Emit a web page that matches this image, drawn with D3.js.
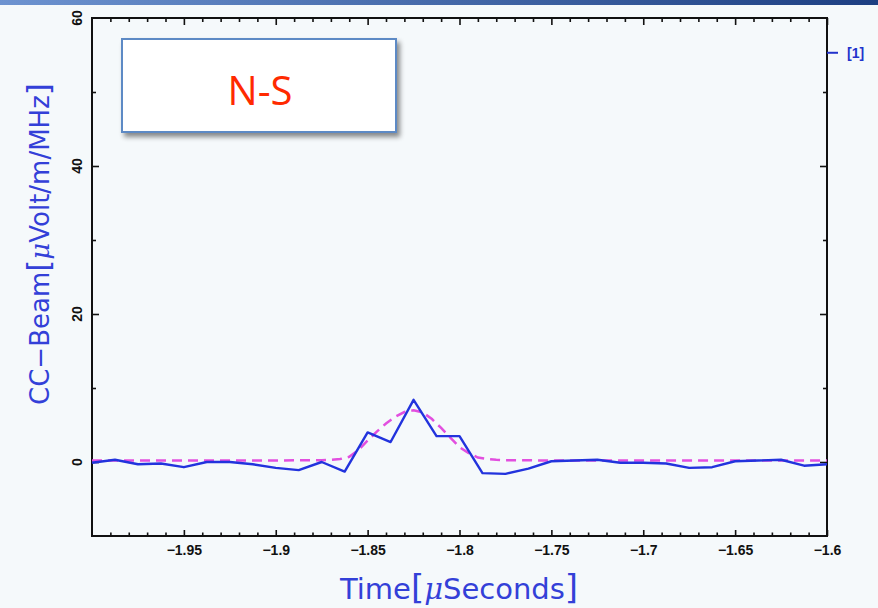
<!DOCTYPE html>
<html>
<head>
<meta charset="utf-8">
<script src="https://cdn.jsdelivr.net/npm/d3@7"></script>
<style>
  body { margin: 0; background: #f5f9fb; }
  svg { display: block; font-family: "Liberation Sans", Arial, sans-serif; }
</style>
</head>
<body>
<svg id="chart" width="878" height="608"></svg>
<script>
// sampled beam, one point every 12.5 ns from -2.0 us
const sampleTimes = d3.range(33).map(k => -2.0 + k * 0.0125);
const beamValues = [-0.1, 0.3, -0.3, -0.2, -0.7, 0.0, 0.0, -0.3, -0.8, -1.1, 0.0,
    -1.3, 4.0, 2.7, 8.4, 3.5, 3.5, -1.5, -1.6, -0.9, 0.1, 0.2, 0.3, -0.1, -0.1,
    -0.2, -0.8, -0.7, 0.1, 0.2, 0.3, -0.5, -0.3];

// fitted pulse (dashed)
const fitTimes = [-2.0, -1.9, -1.875, -1.87, -1.865, -1.86, -1.855, -1.85, -1.845,
    -1.84, -1.835, -1.83, -1.825, -1.82, -1.815, -1.81, -1.805, -1.8, -1.795,
    -1.79, -1.785, -1.78, -1.775, -1.75, -1.6];
const fitValues = [0.2, 0.2, 0.25, 0.3, 0.4, 0.7, 1.6, 2.9, 4.1,
    5.2, 6.1, 6.75, 7.0, 6.7, 5.8, 4.6, 3.3, 2.0, 1.2,
    0.6, 0.4, 0.3, 0.25, 0.2, 0.2];

const xTicks = [-1.95, -1.9, -1.85, -1.8, -1.75, -1.7, -1.65, -1.6];
const yTicks = [0, 20, 40, 60];

const svg = d3.select('#chart');
const pLeft = 92, pRight = 827, pTop = 18, pBottom = 536;

const x = d3.scaleLinear().domain([-2.0, -1.6]).range([pLeft, pRight]);
const y = d3.scaleLinear().domain([-10, 60]).range([pBottom, pTop]);

// header band
const defs = svg.append('defs');
const grad = defs.append('linearGradient').attr('id', 'band');
grad.append('stop').attr('offset', '0%').attr('stop-color', '#6d93d0');
grad.append('stop').attr('offset', '100%').attr('stop-color', '#1d3f82');
svg.append('rect').attr('x', 0).attr('y', 0).attr('width', 878).attr('height', 5)
    .attr('fill', 'url(#band)');

const shadow = defs.append('filter').attr('id', 'shadow')
    .attr('x', '-10%').attr('y', '-10%').attr('width', '130%').attr('height', '140%');
shadow.append('feDropShadow').attr('dx', 3).attr('dy', 4).attr('stdDeviation', 2.5)
    .attr('flood-color', '#000').attr('flood-opacity', 0.45);

// minor / major ticks, inward on all four sides
const minorX = d3.range(1, 40).filter(k => k % 5 !== 0).map(k => -2.0 + k * 0.01);
const fmt = d => d < 0 ? '\u2212' + Math.abs(d) : String(d);

svg.append('g').attr('transform', `translate(0,${pBottom})`)
    .call(d3.axisBottom(x).tickValues(xTicks).tickSize(-6).tickFormat(fmt).tickPadding(9))
    .call(g => g.select('.domain').remove());
svg.append('g').attr('transform', `translate(0,${pBottom})`)
    .call(d3.axisBottom(x).tickValues(minorX).tickSize(-3.5).tickFormat(''))
    .call(g => g.select('.domain').remove());
svg.append('g').attr('transform', `translate(0,${pTop})`)
    .call(d3.axisTop(x).tickValues(xTicks).tickSize(-7).tickFormat(''))
    .call(g => g.select('.domain').remove());
svg.append('g').attr('transform', `translate(0,${pTop})`)
    .call(d3.axisTop(x).tickValues(minorX).tickSize(-4).tickFormat(''))
    .call(g => g.select('.domain').remove());

svg.append('g').attr('transform', `translate(${pLeft},0)`)
    .call(d3.axisLeft(y).tickValues([0, 20, 40]).tickSize(-7).tickFormat(''))
    .call(g => g.select('.domain').remove());
svg.append('g').attr('transform', `translate(${pLeft},0)`)
    .call(d3.axisLeft(y).tickValues([10, 30, 50]).tickSize(-4).tickFormat(''))
    .call(g => g.select('.domain').remove());
svg.append('g').attr('transform', `translate(${pRight},0)`)
    .call(d3.axisRight(y).tickValues([0, 20, 40]).tickSize(-7).tickFormat(''))
    .call(g => g.select('.domain').remove());
svg.append('g').attr('transform', `translate(${pRight},0)`)
    .call(d3.axisRight(y).tickValues([10, 30, 50]).tickSize(-4).tickFormat(''))
    .call(g => g.select('.domain').remove());

svg.selectAll('.tick line').attr('stroke', '#111').attr('stroke-width', 1.6);
svg.selectAll('.tick text').attr('fill', '#111').attr('font-size', 14)
    .attr('font-weight', 'bold');

// rotated y tick labels
svg.append('g').selectAll('text').data(yTicks).join('text')
    .attr('transform', d => `translate(82,${y(d)}) rotate(-90)`)
    .attr('text-anchor', 'middle')
    .attr('font-size', 14).attr('font-weight', 'bold').attr('fill', '#111')
    .text(d => d);

// frame
svg.append('rect').attr('x', pLeft).attr('y', pTop)
    .attr('width', pRight - pLeft).attr('height', pBottom - pTop)
    .attr('fill', 'none').attr('stroke', '#111').attr('stroke-width', 2);

// right-hand channel marker
svg.append('line').attr('x1', pRight).attr('x2', pRight + 11)
    .attr('y1', y(55.3)).attr('y2', y(55.3))
    .attr('stroke', '#2233cc').attr('stroke-width', 2);
svg.append('text').attr('x', pRight + 20).attr('y', y(55.3) + 5)
    .attr('font-size', 14).attr('font-weight', 'bold').attr('fill', '#2233cc')
    .text('[1]');

// curves
const line = d3.line().x(d => x(d[0])).y(d => y(d[1]));
svg.append('path').datum(fitTimes.map((t, i) => [t, fitValues[i]]))
    .attr('d', line).attr('fill', 'none')
    .attr('stroke', '#e24fdf').attr('stroke-width', 2.5)
    .attr('stroke-dasharray', '10,6');
svg.append('path').datum(sampleTimes.map((t, i) => [t, beamValues[i]]))
    .attr('d', line).attr('fill', 'none')
    .attr('stroke', '#2233dd').attr('stroke-width', 2.4)
    .attr('stroke-linejoin', 'round');

// axis titles
svg.append('text').attr('transform', 'translate(49,244) rotate(-90)')
    .attr('text-anchor', 'middle').attr('font-family', '"DejaVu Sans", sans-serif')
    .attr('font-size', 26).attr('fill', '#3340d8')
    .html('CC\u2212Beam<tspan font-size="31">[</tspan><tspan font-style="italic" font-family="DejaVu Serif">\u03bc</tspan>Volt/m/MHz<tspan font-size="31">]</tspan>');
svg.append('text').attr('x', 459).attr('y', 599)
    .attr('text-anchor', 'middle').attr('font-family', '"DejaVu Sans", sans-serif')
    .attr('font-size', 29).attr('fill', '#3340d8')
    .html('Time<tspan font-size="34">[</tspan><tspan font-style="italic" font-family="DejaVu Serif">\u03bc</tspan>Seconds<tspan font-size="34">]</tspan>');

// label box
svg.append('rect').attr('x', 122).attr('y', 39).attr('width', 274).attr('height', 93)
    .attr('fill', '#fff').attr('stroke', '#5d8ac5').attr('stroke-width', 2)
    .attr('filter', 'url(#shadow)');
svg.append('text').attr('x', 260).attr('y', 105).attr('text-anchor', 'middle')
    .attr('font-family', '"Open Sans", sans-serif')
    .attr('font-size', 40).attr('fill', '#ff2a00').text('N-S');
</script>
</body>
</html>
